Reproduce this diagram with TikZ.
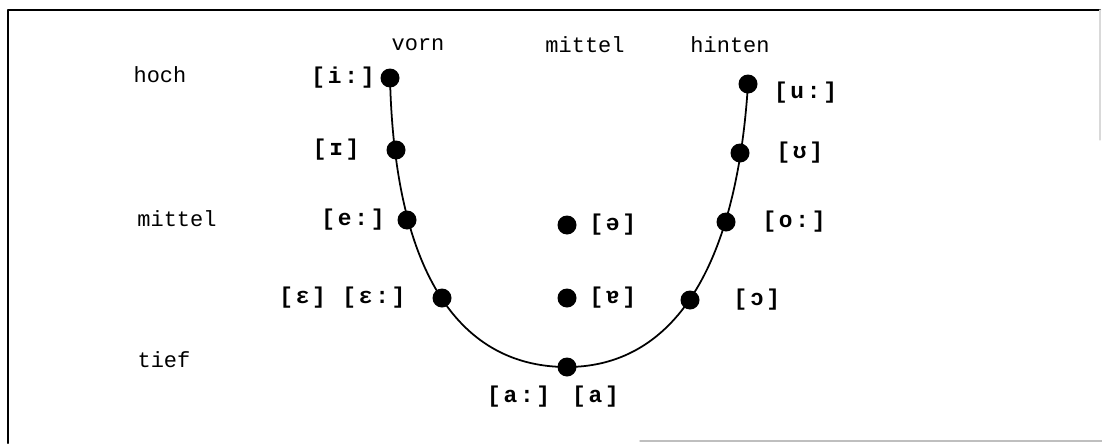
\documentclass[tikz,border=0pt]{standalone}
\usepackage{fontspec}
\usetikzlibrary{positioning}
\setmonofont{Liberation Mono}
\newfontfamily\ipafont[LetterSpace=12]{Liberation Mono}
\tikzset{
  vdot/.style={circle,fill=black,inner sep=0pt,minimum size=0.38cm},
  ipa/.style={font=\fontsize{13}{15}\selectfont\ipafont\bfseries,inner sep=1pt},
  axis/.style={font=\fontsize{12.5}{14}\selectfont\ttfamily,inner sep=0pt}
}
\begin{document}
\begin{tikzpicture}[x=0.02cm,y=-0.02cm,line cap=round,line join=round]
  \useasboundingbox (0,0) rectangle (1102,443);
  % frame
  \draw[line width=1.2pt] (1100,10) -- (8,10) -- (8,443);
  \draw[black!25,line width=0.8pt] (640,441) -- (1102,441);
  \draw[black!15,line width=0.6pt] (1100,10) -- (1100,140);
  % axis labels
  \node[axis] (vorn) at (418,45) {vorn};
  \node[axis] (mitteltop) at (585,45) {mittel};
  \node[axis] (hinten) at (730,45) {hinten};
  \node[axis] (hoch) at (160,75) {hoch};
  \node[axis] (mittelleft) at (177,219) {mittel};
  \node[axis] (tief) at (164,360) {tief};
  % vowels on the curve
  \node[vdot] (i) at (390,78) {};
  \node[vdot] (I) at (396,150) {};
  \node[vdot] (e) at (407,220) {};
  \node[vdot] (E) at (442,298) {};
  \node[vdot] (a) at (567,367) {};
  \node[vdot] (O) at (690,300) {};
  \node[vdot] (o) at (726,222) {};
  \node[vdot] (U) at (740,153) {};
  \node[vdot] (u) at (748,84) {};
  % central vowels
  \node[vdot] (schwa) at (567,225) {};
  \node[vdot] (Ae) at (567,298) {};
  \draw[line width=1pt] (i.center) .. controls (395,290) and (470,367) .. (a.center)
    .. controls (660,367) and (735,290) .. (u.center);
  % vowel labels
  \node[ipa,left=2pt of i] (li) {[i:]};
  \node[ipa,left=14pt of I] (lI) {[ɪ]};
  \node[ipa,left=6pt of e] (le) {[e:]};
  \node[ipa,left=14pt of E] (lE) {[ɛ] [ɛ:]};
  \node[ipa,below=4pt of a,xshift=-8pt] (la) {[a:] [a]};
  \node[ipa,right=6pt of schwa] (lschwa) {[ə]};
  \node[ipa,right=6pt of Ae] (lAe) {[ɐ]};
  \node[ipa,right=8pt of u,yshift=-5pt] (lu) {[u:]};
  \node[ipa,right=14pt of U] (lU) {[ʊ]};
  \node[ipa,right=14pt of o] (lo) {[o:]};
  \node[ipa,right=18pt of O] (lO) {[ɔ]};
\end{tikzpicture}
\end{document}
